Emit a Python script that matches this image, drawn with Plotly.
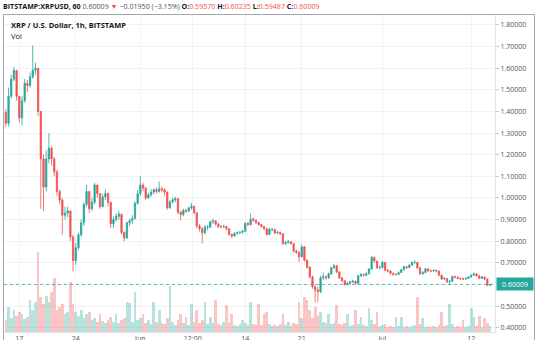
import pandas as pd
import plotly.graph_objects as go

# XRP/USD on Bitstamp, aggregated into 8-hour candles
first_open = 1.395
closes = [
    1.345, 1.47, 1.55, 1.59, 1.47, 1.37, 1.45, 1.53, 1.52, 1.56,
    1.59, 1.60, 1.40, 1.18, 1.05, 1.18, 1.23, 1.18, 1.12, 1.03,
    0.99, 0.92, 0.93, 0.94, 0.82, 0.71, 0.77, 0.83, 0.885, 0.97,
    1.03, 0.95, 0.98, 1.06, 1.02, 0.96, 1.005, 1.02, 0.98, 0.88,
    0.90, 0.915, 0.925, 0.84, 0.815, 0.885, 0.895, 0.905, 0.975, 1.02,
    1.06, 1.045, 1.00, 1.015, 1.027, 1.038, 1.03, 1.043, 1.038, 1.027,
    0.954, 0.981, 0.992, 0.997, 0.934, 0.923, 0.943, 0.939, 0.954, 0.961,
    0.931, 0.870, 0.857, 0.839, 0.865, 0.865, 0.890, 0.893, 0.880, 0.868,
    0.867, 0.868, 0.857, 0.831, 0.824, 0.836, 0.839, 0.841, 0.846, 0.882,
    0.877, 0.902, 0.897, 0.886, 0.877, 0.868, 0.858, 0.831, 0.854, 0.854,
    0.838, 0.840, 0.834, 0.789, 0.794, 0.797, 0.789, 0.754, 0.748, 0.728,
    0.774, 0.712, 0.680, 0.635, 0.589, 0.574, 0.566, 0.631, 0.635, 0.631,
    0.649, 0.677, 0.686, 0.658, 0.631, 0.617, 0.600, 0.605, 0.612, 0.615,
    0.605, 0.640, 0.646, 0.643, 0.649, 0.671, 0.725, 0.708, 0.677, 0.678,
    0.702, 0.666, 0.662, 0.651, 0.646, 0.646, 0.655, 0.668, 0.682, 0.678,
    0.689, 0.702, 0.702, 0.677, 0.649, 0.655, 0.672, 0.663, 0.662, 0.665,
    0.662, 0.643, 0.625, 0.628, 0.612, 0.615, 0.637, 0.634, 0.628, 0.626,
    0.625, 0.628, 0.634, 0.643, 0.649, 0.640, 0.628, 0.634, 0.625, 0.5957,
    0.60009,
]
highs = [
    1.41, 1.51, 1.57, 1.605, 1.59, 1.47, 1.47, 1.55, 1.545, 1.58,
    1.706, 1.625, 1.60, 1.40, 1.20, 1.22, 1.30, 1.24, 1.19, 1.13,
    1.04, 1.00, 0.96, 0.96, 0.94, 0.83, 0.79, 0.84, 0.90, 0.98,
    1.06, 1.03, 1.00, 1.07, 1.06, 1.02, 1.02, 1.04, 1.025, 0.98,
    0.915, 0.93, 0.94, 0.925, 0.845, 0.89, 0.905, 0.92, 0.985, 1.035,
    1.10, 1.07, 1.05, 1.025, 1.04, 1.045, 1.05, 1.076, 1.055, 1.045,
    1.03, 0.99, 1.00, 1.005, 1.00, 0.94, 0.95, 0.95, 0.96, 0.977,
    0.965, 0.935, 0.88, 0.865, 0.875, 0.875, 0.895, 0.905, 0.898, 0.885,
    0.875, 0.876, 0.87, 0.86, 0.835, 0.842, 0.845, 0.848, 0.852, 0.888,
    0.89, 0.928, 0.91, 0.90, 0.89, 0.88, 0.87, 0.86, 0.862, 0.862,
    0.858, 0.848, 0.845, 0.836, 0.80, 0.805, 0.80, 0.792, 0.762, 0.755,
    0.785, 0.776, 0.715, 0.685, 0.64, 0.60, 0.59, 0.64, 0.655, 0.642,
    0.655, 0.682, 0.695, 0.69, 0.662, 0.635, 0.62, 0.612, 0.618, 0.622,
    0.618, 0.645, 0.652, 0.65, 0.656, 0.676, 0.732, 0.73, 0.71, 0.688,
    0.708, 0.703, 0.672, 0.665, 0.655, 0.652, 0.66, 0.672, 0.687, 0.686,
    0.694, 0.706, 0.712, 0.704, 0.68, 0.662, 0.677, 0.674, 0.668, 0.67,
    0.668, 0.664, 0.646, 0.634, 0.63, 0.62, 0.642, 0.64, 0.636, 0.632,
    0.63, 0.632, 0.638, 0.647, 0.655, 0.651, 0.642, 0.638, 0.636, 0.627,
    0.60235,
]
lows = [
    1.33, 1.33, 1.46, 1.54, 1.45, 1.35, 1.335, 1.44, 1.49, 1.51,
    1.55, 1.57, 1.38, 0.95, 0.94, 1.03, 1.16, 1.15, 1.10, 1.01,
    0.97, 0.83, 0.90, 0.91, 0.80, 0.66, 0.69, 0.76, 0.82, 0.87,
    0.96, 0.93, 0.94, 0.97, 1.00, 0.95, 0.955, 0.99, 0.96, 0.86,
    0.86, 0.89, 0.90, 0.83, 0.80, 0.81, 0.87, 0.88, 0.90, 0.97,
    1.01, 1.03, 0.99, 0.995, 1.005, 1.015, 1.02, 1.025, 1.025, 1.01,
    0.945, 0.95, 0.975, 0.98, 0.925, 0.896, 0.915, 0.93, 0.935, 0.945,
    0.925, 0.86, 0.845, 0.789, 0.83, 0.85, 0.86, 0.88, 0.872, 0.86,
    0.858, 0.86, 0.85, 0.825, 0.815, 0.82, 0.83, 0.832, 0.835, 0.842,
    0.87, 0.872, 0.89, 0.878, 0.87, 0.862, 0.852, 0.825, 0.828, 0.845,
    0.832, 0.832, 0.828, 0.782, 0.782, 0.788, 0.782, 0.748, 0.74, 0.705,
    0.725, 0.705, 0.672, 0.628, 0.58, 0.517, 0.52, 0.56, 0.62, 0.62,
    0.625, 0.645, 0.672, 0.652, 0.625, 0.61, 0.593, 0.596, 0.60, 0.606,
    0.598, 0.603, 0.635, 0.636, 0.638, 0.645, 0.668, 0.70, 0.67, 0.67,
    0.675, 0.66, 0.655, 0.646, 0.64, 0.64, 0.643, 0.652, 0.665, 0.672,
    0.675, 0.686, 0.695, 0.672, 0.644, 0.646, 0.652, 0.658, 0.656, 0.658,
    0.655, 0.638, 0.62, 0.62, 0.606, 0.597, 0.612, 0.628, 0.624, 0.621,
    0.62, 0.622, 0.625, 0.632, 0.64, 0.635, 0.624, 0.625, 0.62, 0.5935,
    0.59487,
]
# traded volume per candle, millions of XRP
volumes_m = [
    6, 12.5, 7, 11, 8, 10, 9, 6.5, 7.5, 16,
    11, 15, 40, 17.5, 14, 18, 15, 20, 27, 11,
    12.5, 14, 9, 10, 25, 14, 10, 8, 11, 7,
    9, 10, 6, 7, 5, 9, 5.5, 4.5, 6, 7.5,
    5, 9, 4.5, 6, 7, 15, 14.5, 5, 20, 6,
    7, 9, 4.5, 6, 4, 15, 5, 11, 4.5, 4,
    7, 23, 5, 3.5, 6, 9, 4.5, 7.5, 3.5, 14,
    5, 11, 4.5, 6, 15, 4, 7.5, 4.5, 16, 4,
    3.5, 5, 13.5, 4.5, 9, 3.5, 3, 4, 6, 4.5,
    3.5, 15, 4, 3.5, 14, 3.5, 9, 10, 4, 3,
    3.5, 3, 4, 9, 3.5, 5, 3, 4.5, 4, 15,
    7, 17.5, 16, 11, 7, 12.5, 8, 10, 5, 4.5,
    9, 4, 4.5, 13.5, 4, 3.5, 4.5, 9, 3, 3.5,
    11, 4, 7.5, 3.5, 3, 12, 6, 4, 10, 3,
    3.5, 4, 2.5, 3, 2.5, 7.5, 3, 7.5, 2.5, 3,
    2.5, 3, 3.5, 17.5, 4, 7, 2.5, 3, 2.5, 3,
    2.5, 3.5, 10, 3, 3.5, 14, 4, 2.5, 3, 2.5,
    6, 2.5, 3, 12, 7.5, 3, 8, 2.5, 7, 4.5,
    3,
]

tick_dates = ["2021-05-17", "2021-05-24", "2021-06-01", "2021-06-07 12:00",
              "2021-06-14", "2021-06-21", "2021-07-01", "2021-07-12"]
tick_names = ["17", "24", "Jun", "12:00", "14", "21", "Jul", "12"]
price_ticks = [0.4, 0.5, 0.6, 0.7, 0.8, 0.9, 1.0, 1.1, 1.2, 1.3, 1.4, 1.5, 1.6, 1.7, 1.8]

UP = "#26a69a"
DOWN = "#ef5350"
TEXT = "#131722"
FONT = "Open Sans, Arial, sans-serif"

times = pd.date_range("2021-05-15 08:00", periods=len(closes), freq="8h")
opens = [first_open] + closes[:-1]
vol_colors = ["rgba(38,166,154,0.33)" if c >= o else "rgba(239,83,80,0.33)"
              for o, c in zip(opens, closes)]

last_o, last_h, last_l, last_c = opens[-1], highs[-1], lows[-1], closes[-1]
last_color = UP if last_c >= last_o else DOWN

# the last-price badge takes the place of the nearest scale label
price_labels = ["" if abs(v - last_c) < 0.03 else f"{v:.5f}" for v in price_ticks]

fig = go.Figure()
fig.add_trace(go.Bar(
    x=times, y=volumes_m, marker=dict(color=vol_colors, line=dict(width=0)),
    yaxis="y", hoverinfo="skip", showlegend=False,
))
fig.add_trace(go.Candlestick(
    x=times, open=opens, high=highs, low=lows, close=closes,
    increasing=dict(line=dict(color=UP, width=0.8), fillcolor=UP),
    decreasing=dict(line=dict(color=DOWN, width=0.8), fillcolor=DOWN),
    whiskerwidth=0, yaxis="y2", showlegend=False,
))

W, H = 540, 340
ML, MR, MT, MB = 4, 45, 15, 8
pw, ph = W - ML - MR, H - MT - MB


def px_x(x):
    return (x - ML) / pw


def px_y(y):
    return 1 - (y - MT) / ph


fig.update_layout(
    width=W, height=H,
    margin=dict(l=ML, r=MR, t=MT, b=MB, pad=0, autoexpand=False),
    paper_bgcolor="white", plot_bgcolor="white",
    bargap=0,
    font=dict(family=FONT, size=7, color="#50535e"),
    xaxis=dict(
        type="date", range=["2021-05-15 02:30", "2021-07-14 22:50"],
        tickmode="array", tickvals=tick_dates, ticktext=tick_names,
        showgrid=True, gridcolor="#f0f2f5", gridwidth=1,
        showline=True, linecolor="#e0e3eb", linewidth=1,
        ticks="", rangeslider=dict(visible=False), zeroline=False,
        automargin=False, tickfont=dict(size=7, color="#50535e"),
    ),
    yaxis=dict(range=[0, 158.5], visible=False, fixedrange=True, automargin=False),
    yaxis2=dict(
        overlaying="y", side="right", range=[0.380, 1.846],
        tickmode="array", tickvals=price_ticks, ticktext=price_labels,
        showgrid=True, gridcolor="#f0f2f5", gridwidth=1,
        showline=True, linecolor="#e0e3eb", linewidth=1,
        ticks="outside", ticklen=3, tickcolor="#c8cbd2", tickwidth=1,
        zeroline=False, automargin=False, tickfont=dict(size=7, color="#50535e"),
    ),
)

shapes = [
    # pane frame
    dict(type="rect", xref="paper", yref="paper",
         x0=px_x(3.5), x1=px_x(534.5), y0=px_y(360), y1=px_y(14.5),
         line=dict(color="#a3a6af", width=1), fillcolor="rgba(0,0,0,0)", layer="above"),
    # last price line
    dict(type="line", xref="paper", yref="y2", x0=0, x1=1, y0=last_c, y1=last_c,
         line=dict(color=last_color, width=1, dash="dot"), opacity=0.75, layer="above"),
]
fig.update_layout(shapes=shapes)

header = (
    f'<b>BITSTAMP:XRPUSD, 60</b> '
    f'<span style="color:#50535e">{last_c:.5f}</span> '
    f'<span style="color:{DOWN}">▼</span> '
    f'<span style="color:#50535e">−0.01950 (−3.15%)</span> '
    f'<b>O:</b><span style="color:{DOWN}">{last_o:.5f}</span> '
    f'<b>H:</b><span style="color:{DOWN}">{last_h:.5f}</span> '
    f'<b>L:</b><span style="color:{DOWN}">{last_l:.5f}</span> '
    f'<b>C:</b><span style="color:{DOWN}">{last_c:.5f}</span>'
)

annotations = [
    dict(text=header, xref="paper", yref="paper", x=px_x(1), y=px_y(6.5),
         xanchor="left", yanchor="middle", showarrow=False,
         font=dict(family=FONT, size=7.1, color=TEXT)),
    dict(text="<b>XRP / U.S. Dollar, 1h, BITSTAMP</b>", xref="paper", yref="paper",
         x=px_x(9), y=px_y(25), xanchor="left", yanchor="middle", showarrow=False,
         font=dict(family=FONT, size=7.5, color=TEXT)),
    dict(text="Vol", xref="paper", yref="paper",
         x=px_x(9), y=px_y(36), xanchor="left", yanchor="middle", showarrow=False,
         font=dict(family=FONT, size=7.5, color=TEXT)),
    dict(text=f"{last_c:.5f}", xref="paper", yref="y2", x=px_x(496), y=last_c,
         xanchor="left", yanchor="middle", showarrow=False,
         bgcolor=last_color, borderpad=2, width=32, height=8,
         font=dict(family=FONT, size=7, color="white")),
]
fig.update_layout(annotations=annotations)

fig.write_html("out.html")
